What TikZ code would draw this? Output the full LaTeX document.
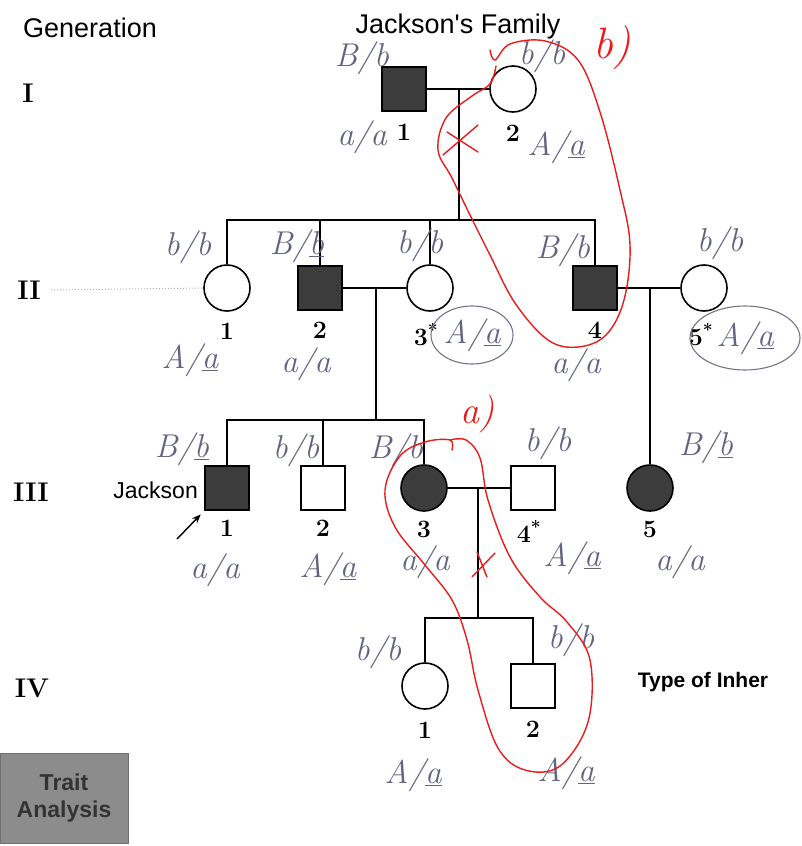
\documentclass[tikz,border=0pt]{standalone}
\usepackage{fontspec}
\newfontfamily\labelfont{Liberation Sans}
\usetikzlibrary{positioning, arrows.meta}
\definecolor{pencil}{RGB}{98,100,130}
\definecolor{affect}{RGB}{60,60,60}
\definecolor{redpen}{RGB}{232,28,28}
\definecolor{buttongray}{RGB}{140,140,140}
\tikzset{
  % pedigree symbols
  male/.style={rectangle, draw=black, line width=1.6pt, minimum size=44pt, inner sep=0pt},
  female/.style={circle, draw=black, line width=1.6pt, minimum size=46pt, inner sep=0pt},
  affected/.style={fill=affect},
  pline/.style={line width=1.6pt},
  idnum/.style={font=\fontsize{25}{27}\selectfont\bfseries, inner sep=0pt},
  genlabel/.style={font=\fontsize{27}{29}\selectfont\bfseries, inner sep=0pt},
  sanslabel/.style={font=\labelfont\fontsize{23}{26}\selectfont, inner sep=0pt},
  % handwritten notes
  geno/.style={font=\fontsize{33}{35}\selectfont\itshape, text=pencil, inner sep=0pt},
  genoring/.style={draw=pencil!90, line width=1.1pt},
  rednote/.style={font=\fontsize{44}{46}\selectfont\itshape, text=redpen, inner sep=0pt},
  redmark/.style={draw=redpen, line width=1.4pt, line cap=round},
  proband/.style={-{Stealth[length=9pt, width=7pt]}, line width=1.4pt, shorten >=5pt}
}

\begin{document}
\begin{tikzpicture}[x=1pt, y=-1pt]
  \useasboundingbox (0,0) rectangle (801,846);

  % Titles
  \node[sanslabel, font=\labelfont\fontsize{27}{30}\selectfont] (gentitle) at (90,28) {Generation};
  \node[sanslabel, font=\labelfont\fontsize{27}{30}\selectfont] (famtitle) at (458,27) {Jackson's Family};

  % Generation numerals
  \node[genlabel] (genI) at (28,93) {I};
  \node[genlabel] (genII) at (29,290) {II};
  \node[genlabel] (genIII) at (31,492) {III};
  \node[genlabel] (genIV) at (32,688) {IV};

  % Generation I
  \node[male, affected] (I1) at (404,89) {};
  \node[female] (I2) at (513,89) {};

  % Generation II
  \node[female] (II1) at (227,288) {};
  \node[male, affected] (II2) at (320,288) {};
  \node[female] (II3) at (430,288) {};
  \node[male, affected] (II4) at (595,288) {};
  \node[female] (II5) at (704,288) {};

  % Generation III
  \node[male, affected] (III1) at (227,488) {};
  \node[male] (III2) at (323,488) {};
  \node[female, affected] (III3) at (424,488) {};
  \node[male] (III4) at (533,488) {};
  \node[female, affected] (III5) at (650,488) {};

  % Generation IV
  \node[female] (IV1) at (425,686) {};
  \node[male] (IV2) at (533,686) {};

  % Individual numbers
  \node[idnum, below=12pt of I1] (nI1) {1};
  \node[idnum, below=12pt of I2] (nI2) {2};
  \node[idnum, below=11pt of II1] (nII1) {1};
  \node[idnum, below=11pt of II2] (nII2) {2};
  \node[idnum, below=11pt of II3, xshift=-4pt] (nII3) {3\textsuperscript{*}};
  \node[idnum, below=11pt of II4] (nII4) {4};
  \node[idnum, below=11pt of II5, xshift=-3pt] (nII5) {5\textsuperscript{*}};
  \node[idnum, below=9pt of III1] (nIII1) {1};
  \node[idnum, below=9pt of III2] (nIII2) {2};
  \node[idnum, below=9pt of III3] (nIII3) {3};
  \node[idnum, below=9pt of III4, xshift=-4pt] (nIII4) {4\textsuperscript{*}};
  \node[idnum, below=9pt of III5] (nIII5) {5};
  \node[idnum, below=12pt of IV1] (nIV1) {1};
  \node[idnum, below=12pt of IV2] (nIV2) {2};

  % Other labels
  \node[sanslabel, anchor=east] (jackson) at (198,490) {Jackson};
  \node[sanslabel, font=\labelfont\bfseries\fontsize{21}{24}\selectfont] (inher) at (703,682) {Type of Inher};
  \node[rectangle, fill=buttongray, draw=buttongray!80!black, minimum width=128pt, minimum height=90pt,
        align=center, text=black!80, font=\labelfont\bfseries\fontsize{23}{27}\selectfont] (trait) at (64,798) {Trait\\Analysis};

  % Matings and descent lines
  \coordinate (I12) at (459,89);
  \coordinate (sibII) at (459,220);
  \draw[pline] (I1) -- (I2);
  \draw[pline] (I12) -- (sibII);
  \draw[pline] (II1.north) |- (sibII) -| (II4.north);
  \draw[pline] (II2.north) -- (II2.north |- sibII);
  \draw[pline] (II3.north) -- (II3.north |- sibII);

  \coordinate (II23) at (376,288);
  \coordinate (sibIII) at (376,420);
  \draw[pline] (II2) -- (II3);
  \draw[pline] (II23) -- (sibIII);
  \draw[pline] (III1.north) |- (sibIII) -| (III3.north);
  \draw[pline] (III2.north) -- (III2.north |- sibIII);

  \coordinate (II45) at (650,288);
  \draw[pline] (II4) -- (II5);
  \draw[pline] (II45) -- (III5);

  \coordinate (III34) at (478,488);
  \coordinate (sibIV) at (478,618);
  \draw[pline] (III3) -- (III4);
  \draw[pline] (III34) -- (sibIV);
  \draw[pline] (IV1.north) |- (sibIV) -| (IV2.north);

  % Guide line and proband arrow
  \draw[gray!60, line width=1pt, dotted] (genII.east) ++(10,0) -- (II1.west);
  \coordinate (arrtail) at (177,539);
  \draw[proband] (arrtail) -- (III1.south west);

  % Genotypes, generation I
  \node[geno] (gI1t) at (362,58) {B/b};
  \node[geno] (gI1b) at (362,137) {a/a};
  \node[geno] (gI2t) at (542,56) {b/b};
  \node[geno] (gI2b) at (556,147) {A/\underline{a}};

  % Genotypes, generation II
  \node[geno] (gII1t) at (188,247) {b/b};
  \node[geno] (gII1b) at (190,360) {A/\underline{a}};
  \node[geno] (gII2t) at (297,246) {B/\underline{b}};
  \node[geno] (gII2b) at (306,364) {a/a};
  \node[geno] (gII3t) at (420,245) {b/b};
  \node[geno] (gII3b) at (472,335) {A/\underline{a}};
  \node[geno] (gII4t) at (563,250) {B/b};
  \node[geno] (gII4b) at (576,365) {a/a};
  \node[geno] (gII5t) at (720,243) {b/b};
  \node[geno] (gII5b) at (745,338) {A/\underline{a}};
  \draw[genoring] (gII3b) ellipse [x radius=41, y radius=29];
  \draw[genoring] (gII5b) ellipse [x radius=55, y radius=32];

  % Genotypes, generation III
  \node[geno] (gIII1t) at (182,449) {B/\underline{b}};
  \node[geno] (gIII1b) at (215,570) {a/a};
  \node[geno] (gIII2t) at (296,450) {b/b};
  \node[geno] (gIII2b) at (328,569) {A/\underline{a}};
  \node[geno] (gIII3t) at (396,450) {B/b};
  \node[geno] (gIII3b) at (425,562) {a/a};
  \node[geno] (gIII4t) at (548,443) {b/b};
  \node[geno] (gIII4b) at (572,558) {A/\underline{a}};
  \node[geno] (gIII5t) at (706,447) {B/\underline{b}};
  \node[geno] (gIII5b) at (680,562) {a/a};

  % Genotypes, generation IV
  \node[geno] (gIV1t) at (378,652) {b/b};
  \node[geno] (gIV1b) at (413,775) {A/\underline{a}};
  \node[geno] (gIV2t) at (571,640) {b/b};
  \node[geno] (gIV2b) at (566,773) {A/\underline{a}};

  % Red notes b)
  \node[rednote] (noteb) at (612,48) {b)};
  \draw[redmark] plot[smooth, tension=0.6] coordinates {(490,50) (495,60) (510,44) (545,41) (578,60)
    (600,112) (620,190) (630,245) (624,300) (606,335) (578,347) (548,340) (515,303) (490,255)
    (470,215) (452,178) (438,150) (446,118) (472,96) (490,84) (496,66)};
  \draw[redmark] (443,155) -- (478,125);
  \draw[redmark] (447,132) -- (478,152);

  % Red notes a)
  \node[rednote, font=\fontsize{38}{40}\selectfont\itshape] (notea) at (478,414) {a)};
  \draw[redmark] plot[smooth, tension=0.6] coordinates {(452,450) (450,440) (425,442) (400,456)
    (385,490) (395,527) (425,565) (452,600) (467,640) (478,690) (498,748) (525,770) (560,766)
    (588,722) (590,660) (567,622) (540,597) (510,557) (488,500) (480,458) (466,440) (450,440)};
  \draw[redmark] (472,577) -- (495,553);
  \draw[redmark] (477,552) -- (487,577);
\end{tikzpicture}
\end{document}
